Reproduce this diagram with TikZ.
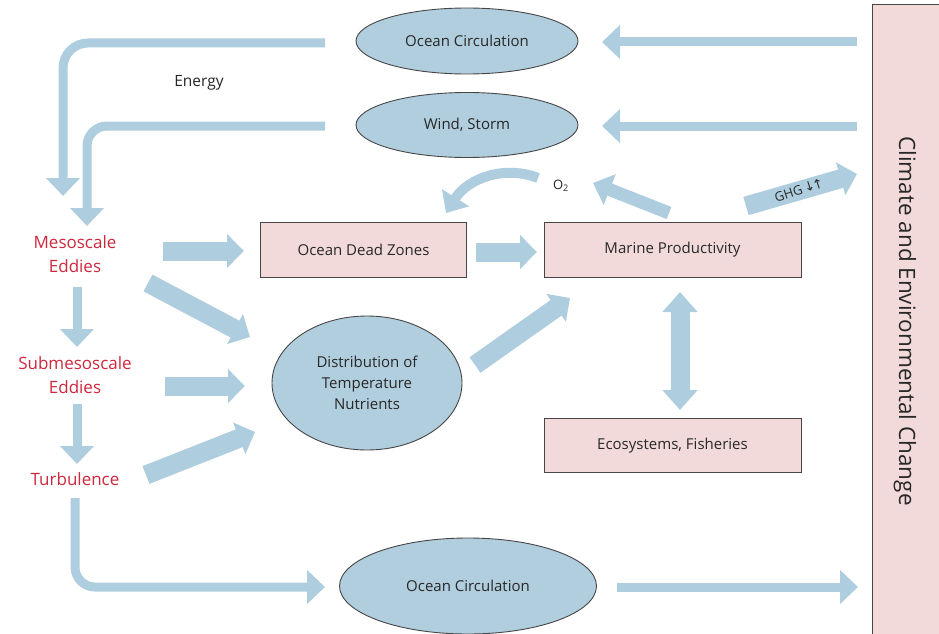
\documentclass[tikz,border=0pt]{standalone}
\usepackage{fontspec}
\setmainfont{Open Sans}
\newfontfamily\symfont{DejaVu Sans}
\usetikzlibrary{arrows.meta,shapes.geometric}
\definecolor{ablue}{RGB}{174,205,222}
\definecolor{eblue}{RGB}{177,206,222}
\definecolor{bpink}{RGB}{242,218,218}
\definecolor{ered}{RGB}{205,40,60}
\definecolor{tgray}{RGB}{40,40,40}
\definecolor{bgray}{RGB}{70,70,70}
\tikzset{
  ell/.style={ellipse, draw=bgray, line width=0.9pt, fill=eblue, inner sep=0pt, text=tgray,
    font=\fontsize{15}{21}\selectfont, align=center},
  pbox/.style={rectangle, draw=bgray, line width=1pt, fill=bpink, inner sep=0pt, text=tgray,
    minimum height=55pt, font=\fontsize{15}{18}\selectfont},
  redlbl/.style={text=ered, font=\fontsize{17}{24}\selectfont, align=center, inner sep=0pt},
  thinarr/.style={draw=ablue, line width=9pt, -{Triangle[length=18pt,width=33pt]}},
  midarr/.style={draw=ablue, line width=13pt, -{Triangle[length=18pt,width=32pt]}},
  fatarr/.style={draw=ablue, line width=19pt, -{Triangle[length=17pt,width=33pt]}},
  dblarr/.style={draw=ablue, line width=19pt, {Triangle[length=20pt,width=34pt]}-{Triangle[length=20pt,width=34pt]}},
}
\begin{document}
\begin{tikzpicture}[x=1pt,y=-1pt]
\useasboundingbox (0,0) rectangle (939,634);

% right bar
\node[rectangle, draw=bgray, line width=1pt, fill=bpink, minimum width=73pt, minimum height=640pt, inner sep=0pt] (bar) at (908.5,325) {};
\node[rotate=-90, text=tgray, font=\fontsize{22.5}{26}\selectfont, inner sep=0pt] (bartext) at (905,321) {Climate and Environmental Change};

% ellipses
\node[ell, minimum width=222pt, minimum height=66pt] (oc1) at (467,41) {Ocean Circulation};
\node[ell, minimum width=222pt, minimum height=65pt] (ws) at (467,125) {Wind, Storm};
\node[ell, minimum width=190pt, minimum height=134pt] (dist) at (367,383) {Distribution of\\Temperature\\Nutrients};
\node[ell, minimum width=257pt, minimum height=96pt] (oc2) at (468,586) {Ocean Circulation};

% boxes
\node[pbox, minimum width=206pt] (dead) at (363.5,250) {Ocean Dead Zones};
\node[pbox, minimum width=257pt] (marine) at (672.5,250) {Marine Productivity};
\node[pbox, minimum width=257pt, minimum height=54pt] (eco) at (672.5,445.5) {Ecosystems, Fisheries};

% red labels
\node[redlbl] (meso) at (75,254) {Mesoscale\\Eddies};
\node[redlbl] (sub) at (75,375) {Submesoscale\\Eddies};
\node[redlbl] (turb) at (75,479) {Turbulence};

% small texts
\node[text=black!85, font=\fontsize{15.5}{18}\selectfont, inner sep=0pt] (energy) at (199,83) {Energy};
\node[text=tgray, font=\fontsize{13}{15}\selectfont, inner sep=0pt] (o2) at (561,186) {O\textsubscript{2}};

% coordinates for arrow ends
\coordinate (e1s) at (325,43);  \coordinate (e1t) at (63,196);
\coordinate (e2s) at (325,126); \coordinate (e2t) at (87,226);
\coordinate (r1s) at (857,42);  \coordinate (r1t) at (602,42);
\coordinate (r2s) at (857,126); \coordinate (r2t) at (602,126);
\coordinate (m1s) at (77,287);  \coordinate (m1t) at (77,347);
\coordinate (m2s) at (77,404);  \coordinate (m2t) at (77,464);
\coordinate (t1s) at (75,498);  \coordinate (t1t) at (325,587);
\coordinate (b1s) at (617,587); \coordinate (b1t) at (858,587);
\coordinate (f1s) at (163,251); \coordinate (f1t) at (244,251);
\coordinate (f2s) at (148,283); \coordinate (f2t) at (250,337);
\coordinate (f3s) at (165,386); \coordinate (f3t) at (245,386);
\coordinate (f4s) at (146,475); \coordinate (f4t) at (255,432);
\coordinate (f5s) at (476,252); \coordinate (f5t) at (537,252);
\coordinate (f6s) at (475,365); \coordinate (f6t) at (570,298);
\coordinate (d1s) at (680,292); \coordinate (d1t) at (680,410);
\coordinate (o2s) at (669,213); \coordinate (o2t) at (593,183);
\coordinate (c1s) at (538,178); \coordinate (c1t) at (446,213);
\coordinate (g1s) at (746,206); \coordinate (g1t) at (857,174);

% arrows
\draw[thinarr, rounded corners=25pt] (e1s) -| (e1t);
\draw[thinarr, rounded corners=20pt] (e2s) -| (e2t);
\draw[thinarr] (r1s) -- (r1t);
\draw[thinarr] (r2s) -- (r2t);
\draw[thinarr] (m1s) -- (m1t);
\draw[thinarr] (m2s) -- (m2t);
\draw[thinarr, rounded corners=20pt] (t1s) |- (t1t);
\draw[thinarr] (b1s) -- (b1t);
\draw[fatarr] (f1s) -- (f1t);
\draw[fatarr] (f2s) -- (f2t);
\draw[fatarr] (f3s) -- (f3t);
\draw[fatarr] (f4s) -- (f4t);
\draw[fatarr] (f5s) -- (f5t);
\draw[fatarr] (f6s) -- (f6t);
\draw[dblarr] (d1s) -- (d1t);
\draw[midarr] (o2s) -- (o2t);
\draw[draw=ablue, line width=10pt, -{Triangle[length=18pt,width=31pt]}] (c1s) .. controls (505,165) and (468,178) .. (c1t);
\draw[fatarr] (g1s) -- (g1t);
\node[rotate=18, text=tgray, font=\fontsize{13}{15}\selectfont, inner sep=0pt] (ghg) at (799,190) {GHG\,{\symfont\fontsize{13}{15}\selectfont ↓\kern-2pt↑}};

\end{tikzpicture}
\end{document}
